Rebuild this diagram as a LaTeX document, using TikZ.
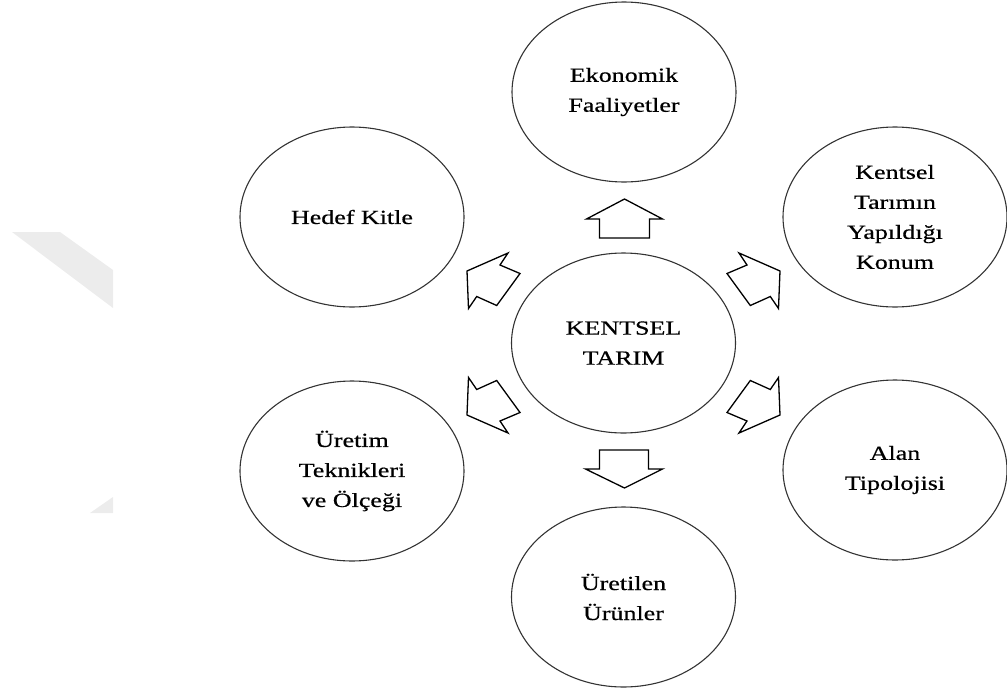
\documentclass[tikz,border=0pt]{standalone}
\usepackage{fontspec}
\setmainfont[FakeStretch=1.3,FakeBold=0.6]{Liberation Serif}
\usetikzlibrary{shapes.geometric}
\definecolor{wm}{RGB}{236,236,236}
\tikzset{
  bubble/.style={ellipse, draw=black!80, line width=1.1pt, minimum width=224pt,
    minimum height=180pt, inner sep=0pt, align=center,
    font=\fontsize{20}{30}\selectfont},
  blockarrow/.style={draw=black, line width=1.3pt, fill=white, line join=miter},
  watermark/.style={fill=wm, draw=none}
}
\begin{document}
\begin{tikzpicture}[x=1pt,y=-1pt]
\useasboundingbox (0,0) rectangle (1007,691);
% faint watermark on the left
\fill[watermark] (12,232) -- (60,232) -- (113,270) -- (113,308) -- cycle;
\fill[watermark] (90,513) -- (113,497) -- (113,513) -- cycle;

\node[bubble] (c)  at (623.5,343) {KENTSEL\\TARIM};
\node[bubble] (t)  at (624,92)    {Ekonomik\\Faaliyetler};
\node[bubble] (ul) at (352,217)   {Hedef Kitle};
\node[bubble] (ur) at (895,217)   {Kentsel\\Tarımın\\Yapıldığı\\Konum};
\node[bubble] (ll) at (352,471)   {Üretim\\Teknikleri\\ve Ölçeği};
\node[bubble] (lr) at (895,470)   {Alan\\Tipolojisi};
\node[bubble] (b)  at (623.5,597) {Üretilen\\Ürünler};

\begin{scope}[shift={(c.center)}]
  % up arrow
  \draw[blockarrow] (1,-144) -- (39,-124) -- (26,-124) -- (26,-105) -- (-24,-105)
    -- (-24,-124) -- (-37,-124) -- cycle;
  % down arrow
  \draw[blockarrow] (1,145) -- (39,126) -- (25,126) -- (25,107) -- (-24,107)
    -- (-24,126) -- (-38,126) -- cycle;
  % upper-left
  \draw[blockarrow] (-156.5,-72) -- (-115.5,-90) -- (-123.5,-78) -- (-103.5,-69.5)
    -- (-126.8,-37.5) -- (-146.8,-46.5) -- (-155,-34.5) -- cycle;
  % upper-right
  \begin{scope}[xscale=-1]
  \draw[blockarrow] (-156.5,-72) -- (-115.5,-90) -- (-123.5,-78) -- (-103.5,-69.5)
    -- (-126.8,-37.5) -- (-146.8,-46.5) -- (-155,-34.5) -- cycle;
  \end{scope}
  % lower-left
  \begin{scope}[yscale=-1]
  \draw[blockarrow] (-156.5,-72) -- (-115.5,-90) -- (-123.5,-78) -- (-103.5,-69.5)
    -- (-126.8,-37.5) -- (-146.8,-46.5) -- (-155,-34.5) -- cycle;
  \end{scope}
  % lower-right
  \begin{scope}[xscale=-1,yscale=-1]
  \draw[blockarrow] (-156.5,-72) -- (-115.5,-90) -- (-123.5,-78) -- (-103.5,-69.5)
    -- (-126.8,-37.5) -- (-146.8,-46.5) -- (-155,-34.5) -- cycle;
  \end{scope}
\end{scope}
\end{tikzpicture}
\end{document}
